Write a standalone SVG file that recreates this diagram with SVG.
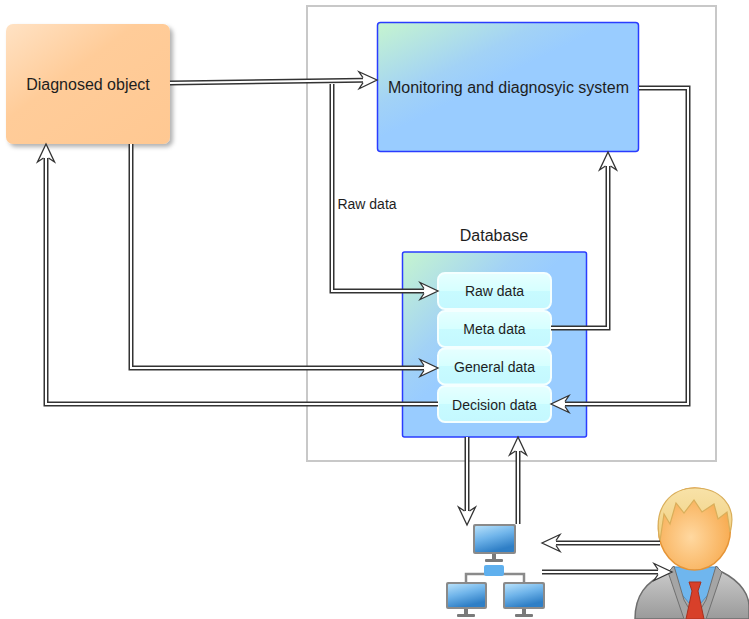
<svg xmlns="http://www.w3.org/2000/svg" xmlns:xlink="http://www.w3.org/1999/xlink" width="749" height="619" viewBox="0 0 749 619">
  <style>
    .lbl { font-family: "Liberation Sans", Arial, sans-serif; fill: #1e1e1e; text-anchor: middle; }
    .big { font-size: 16px; }
    .item { font-size: 14px; }
    .wo { fill: none; stroke: #333; stroke-width: 5; stroke-linejoin: miter; stroke-linecap: butt; }
    .wi { fill: none; stroke: #fff; stroke-width: 2; stroke-linejoin: miter; stroke-linecap: butt; }
    .head { fill: #fff; stroke: #333; stroke-width: 1.3; stroke-linejoin: miter; }
    .mon-frame { fill: #8a8a8a; }
    .mon-screen { fill: url(#screen); }
    .stand { fill: #7a7a7a; }
  </style>
  <defs>
    <linearGradient id="orange" x1="0" y1="0" x2="1" y2="1">
      <stop offset="0" stop-color="#ffe2c4"/>
      <stop offset="0.4" stop-color="#ffcc99"/>
      <stop offset="1" stop-color="#ffc892"/>
    </linearGradient>
    <linearGradient id="blue" x1="0" y1="0" x2="1" y2="1">
      <stop offset="0" stop-color="#c6f5cf"/>
      <stop offset="0.32" stop-color="#a2d2f6"/>
      <stop offset="0.45" stop-color="#99ccff"/>
      <stop offset="1" stop-color="#99ccff"/>
    </linearGradient>
    <linearGradient id="cell" x1="0" y1="0" x2="0" y2="1">
      <stop offset="0" stop-color="#e6ffff"/>
      <stop offset="0.5" stop-color="#d6ffff"/>
      <stop offset="0.5" stop-color="#c8fbff"/>
      <stop offset="1" stop-color="#c4f8ff"/>
    </linearGradient>
    <linearGradient id="screen" x1="0" y1="0" x2="0.4" y2="1">
      <stop offset="0" stop-color="#b6e0fa"/>
      <stop offset="0.5" stop-color="#6fb4ea"/>
      <stop offset="1" stop-color="#2f7fc6"/>
    </linearGradient>
    <radialGradient id="face" cx="0.45" cy="0.6" r="0.6">
      <stop offset="0" stop-color="#ffd8a0"/>
      <stop offset="1" stop-color="#f7a94d"/>
    </radialGradient>
    <linearGradient id="suit" x1="0" y1="0" x2="0" y2="1">
      <stop offset="0" stop-color="#c9c9c9"/>
      <stop offset="1" stop-color="#9a9a9a"/>
    </linearGradient>
    <linearGradient id="hair" x1="0" y1="0" x2="0" y2="1">
      <stop offset="0" stop-color="#f8e2a8"/>
      <stop offset="1" stop-color="#f0cf7e"/>
    </linearGradient>
    <filter id="shadow" x="-10%" y="-10%" width="130%" height="130%">
      <feDropShadow dx="3" dy="3" stdDeviation="2" flood-color="#000" flood-opacity="0.3"/>
    </filter>
    <!-- hollow arrowhead, tip at origin, pointing right -->
    <path id="ah" d="M-14,-2.5 L-18,-8.5 L0,0 L-18,8.5 L-14,2.5"/>
    <!-- connector routes -->
    <path id="r2" d="M332,84 L332,291 L424,291"/>
    <path id="r1" d="M170,83 L363,80.2"/>
    <path id="r3" d="M131,144 L131,368 L424,368"/>
    <path id="r4" d="M438,404 L46,404 L46,158"/>
    <path id="r5" d="M551,328 L608,328 L608,166"/>
    <path id="r6" d="M639,88 L688,88 L688,404 L565,404"/>
    <path id="r7" d="M467,437 L467,511"/>
    <path id="r8" d="M518,524 L518,451"/>
    <path id="r9" d="M660,543 L556,543"/>
    <path id="r10" d="M542,572 L658,572"/>
  </defs>

  <rect width="749" height="619" fill="#fff"/>

  <!-- system boundary -->
  <rect id="boundary" x="307" y="6" width="409" height="455" fill="none" stroke="#c8c8c8" stroke-width="2"/>

  <g id="diagnosed-object">
    <rect x="6" y="24" width="164" height="120" rx="7" fill="url(#orange)" filter="url(#shadow)"/>
    <text class="lbl big" x="88" y="90">Diagnosed object</text>
  </g>

  <g id="monitoring-system">
    <rect x="377.5" y="22.5" width="261" height="129" rx="3" fill="url(#blue)" stroke="#2a3cff" stroke-width="1.5"/>
    <text class="lbl big" x="508.5" y="93">Monitoring and diagnosyic system</text>
  </g>

  <g id="database">
    <text class="lbl big" x="494" y="241">Database</text>
    <rect x="402.5" y="252" width="184" height="185" rx="2" fill="url(#blue)" stroke="#2a3cff" stroke-width="1.5"/>
    <g id="raw-data">
      <rect x="438" y="273" width="113" height="36" rx="7" fill="url(#cell)" stroke="#f4ffff" stroke-width="2"/>
      <text class="lbl item" x="494.5" y="296">Raw data</text>
    </g>
    <g id="meta-data">
      <rect x="438" y="311" width="113" height="36" rx="7" fill="url(#cell)" stroke="#f4ffff" stroke-width="2"/>
      <text class="lbl item" x="494.5" y="334">Meta data</text>
    </g>
    <g id="general-data">
      <rect x="438" y="348.5" width="113" height="36" rx="7" fill="url(#cell)" stroke="#f4ffff" stroke-width="2"/>
      <text class="lbl item" x="494.5" y="372">General data</text>
    </g>
    <g id="decision-data">
      <rect x="438" y="386" width="113" height="36" rx="7" fill="url(#cell)" stroke="#f4ffff" stroke-width="2"/>
      <text class="lbl item" x="494.5" y="410">Decision data</text>
    </g>
  </g>

  <g id="network">
    <!-- link lines -->
    <path d="M466,582 L466,574 L524,574 L524,582" fill="none" stroke="#8a8a8a" stroke-width="2.5"/>
    <rect x="484" y="565" width="20" height="11" rx="2" fill="#5fb0ee"/>
    <!-- top workstation -->
    <rect class="mon-frame" x="473" y="524" width="43" height="30" rx="2"/>
    <rect class="mon-screen" x="475" y="526" width="39" height="26" rx="1"/>
    <rect class="stand" x="492" y="554" width="4" height="8"/>
    <rect class="stand" x="485" y="559" width="18" height="3" rx="1"/>
    <!-- bottom-left workstation -->
    <rect class="mon-frame" x="446" y="582" width="41" height="27" rx="2"/>
    <rect class="mon-screen" x="448" y="584" width="37" height="23" rx="1"/>
    <rect class="stand" x="464" y="609" width="4" height="6"/>
    <rect class="stand" x="457" y="614" width="18" height="3" rx="1"/>
    <!-- bottom-right workstation -->
    <rect class="mon-frame" x="503" y="582" width="42" height="27" rx="2"/>
    <rect class="mon-screen" x="505" y="584" width="38" height="23" rx="1"/>
    <rect class="stand" x="522" y="609" width="4" height="6"/>
    <rect class="stand" x="515" y="614" width="18" height="3" rx="1"/>
  </g>

  <g id="user">
    <!-- suit -->
    <path d="M635,619 C635,596 645,582 668,572 L722,572 C742,582 749,596 749,606 L749,619 Z" fill="url(#suit)" stroke="#6e6e6e" stroke-width="1.5"/>
    <!-- shirt -->
    <path d="M672,567 L718,567 L712,590 L695,610 L678,590 Z" fill="#6fb6ee" stroke="#4a8fc8" stroke-width="1"/>
    <!-- lapels -->
    <path d="M668,572 L674,566 L684,600 L695,619 L684,619 Z" fill="#a5a5a5" stroke="#707070" stroke-width="1"/>
    <path d="M722,572 L716,566 L706,600 L695,619 L706,619 Z" fill="#a5a5a5" stroke="#707070" stroke-width="1"/>
    <!-- tie -->
    <path d="M689,582 L701,582 L698,591 L704,619 L686,619 L692,591 Z" fill="#d8402a" stroke="#a8301e" stroke-width="1"/>
    <!-- head -->
    <ellipse cx="694.5" cy="529" rx="36" ry="41" fill="url(#face)" stroke="#e59436" stroke-width="1.5"/>
    <!-- hair -->
    <path d="M660,541 C652,506 672,488 695,488 C719,488 738,505 730,532 L727,512 L718,519 L714,504 L702,512 L694,500 L684,513 L676,503 L670,524 L664,514 Z" fill="url(#hair)" stroke="#d9ae5a" stroke-width="1.2"/>
  </g>

  <g id="connectors">
    <use href="#r2" class="wo"/><use href="#r2" class="wi"/>
    <use href="#r1" class="wo"/><use href="#r1" class="wi"/>
    <use href="#r3" class="wo"/><use href="#r3" class="wi"/>
    <use href="#r4" class="wo"/><use href="#r4" class="wi"/>
    <use href="#r5" class="wo"/><use href="#r5" class="wi"/>
    <use href="#r6" class="wo"/><use href="#r6" class="wi"/>
    <use href="#r7" class="wo"/><use href="#r7" class="wi"/>
    <use href="#r8" class="wo"/><use href="#r8" class="wi"/>
    <use href="#r9" class="wo"/><use href="#r9" class="wi"/>
    <use href="#r10" class="wo"/><use href="#r10" class="wi"/>
    <!-- arrowheads -->
    <use href="#ah" class="head" transform="translate(377,80) rotate(-0.8)"/>
    <use href="#ah" class="head" transform="translate(438,291)"/>
    <use href="#ah" class="head" transform="translate(438,368)"/>
    <use href="#ah" class="head" transform="translate(46,144) rotate(-90)"/>
    <use href="#ah" class="head" transform="translate(608,152) rotate(-90)"/>
    <use href="#ah" class="head" transform="translate(551,404) rotate(180)"/>
    <use href="#ah" class="head" transform="translate(467,525) rotate(90)"/>
    <use href="#ah" class="head" transform="translate(518,437) rotate(-90)"/>
    <use href="#ah" class="head" transform="translate(542,543) rotate(180)"/>
    <use href="#ah" class="head" transform="translate(672,572)"/>
    <text class="lbl" x="367" y="209" style="font-size:14px">Raw data</text>
  </g>
</svg>
